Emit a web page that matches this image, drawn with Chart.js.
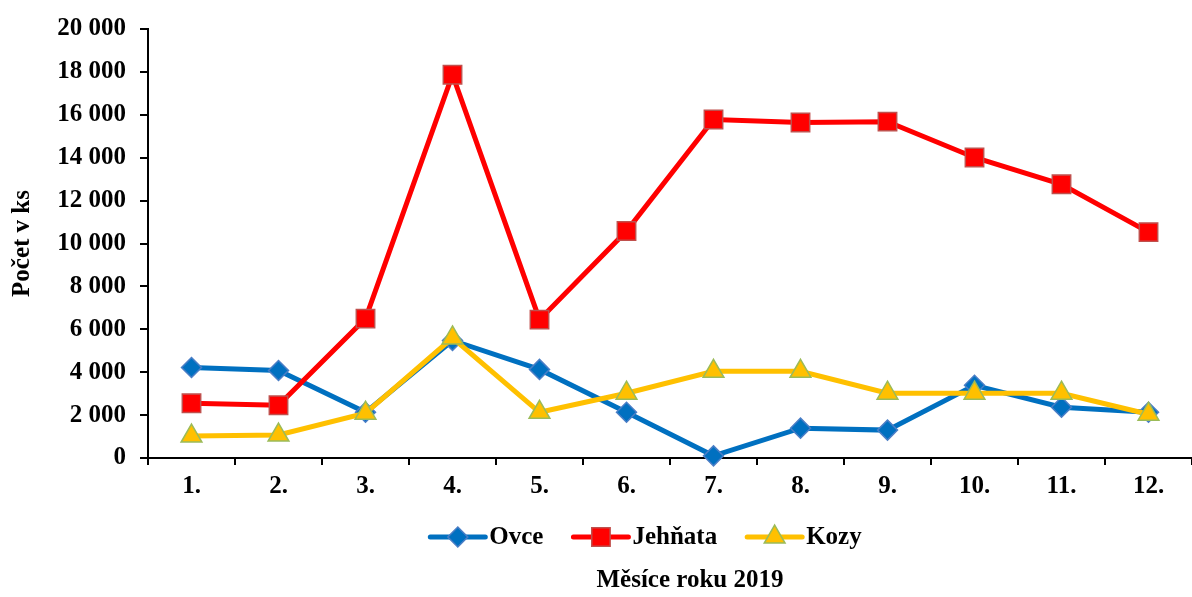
<!DOCTYPE html>
<html>
<head>
<meta charset="utf-8">
<script src="https://cdn.jsdelivr.net/npm/chart.js@4/dist/chart.umd.min.js"></script>
<style>
  html, body { margin: 0; padding: 0; background: #fff; }
  #wrap { width: 1192px; height: 597px; }
</style>
</head>
<body>
<div id="wrap"><canvas id="c" width="1192" height="597"></canvas></div>
<script>
const MONTHS = ["1.", "2.", "3.", "4.", "5.", "6.", "7.", "8.", "9.", "10.", "11.", "12."];
const OVCE = [4220, 4080, 2130, 5480, 4130, 2130, 100, 1390, 1300, 3390, 2370, 2130];
const JEHNATA = [2550, 2460, 6500, 17870, 6450, 10580, 15780, 15640, 15680, 14010, 12760, 10530];
const KOZY = [1020, 1070, 2090, 5600, 2130, 3020, 4040, 4040, 3020, 3020, 3020, 2040];
const Y_TICKS = [0, 2000, 4000, 6000, 8000, 10000, 12000, 14000, 16000, 18000, 20000];

const FONT = "'Liberation Serif', 'Times New Roman', serif";
const FS = 25;

const SERIES = [
  { label: "Ovce", data: OVCE, line: "#0070C0", fill: "#0070C0", edge: "#4A7EC6", style: "rectRot", r: 10, order: 3 },
  { label: "Jehňata", data: JEHNATA, line: "#FF0000", fill: "#FF0000", edge: "#C0504D", style: "rect", r: 13, order: 2 },
  { label: "Kozy", data: KOZY, line: "#FFC000", fill: "#FFC000", edge: "#9BBB59", style: "triangle", r: 12, order: 1 },
];

function fmtThousands(v) {
  return String(v).replace(/\B(?=(\d{3})+(?!\d))/g, " ");
}

// same shapes as Chart.js point styles, for the legend
function drawMarker(ctx, s, x, y) {
  ctx.save();
  ctx.fillStyle = s.fill;
  ctx.strokeStyle = s.edge;
  ctx.lineWidth = 1.5;
  ctx.beginPath();
  const r = s.r;
  if (s.style === "rectRot") {
    ctx.moveTo(x, y - r); ctx.lineTo(x + r, y); ctx.lineTo(x, y + r); ctx.lineTo(x - r, y);
  } else if (s.style === "rect") {
    const h = Math.SQRT1_2 * r;
    ctx.rect(x - h, y - h, h * 2, h * 2);
  } else {
    const c = Math.cos(Math.PI / 6) * r, sn = Math.sin(Math.PI / 6) * r;
    ctx.moveTo(x, y - r); ctx.lineTo(x + c, y + sn); ctx.lineTo(x - c, y + sn);
  }
  ctx.closePath();
  ctx.fill();
  ctx.stroke();
  ctx.restore();
}

// legend (line + marker) and x title drawn by hand, Excel style
const extras = {
  id: "extras",
  afterDraw(chart) {
    const ctx = chart.ctx;
    ctx.save();
    ctx.font = "bold " + FS + "px " + FONT;
    ctx.textBaseline = "middle";
    const lineLen = 55, gap = 4, spacing = 30;
    const widths = SERIES.map(s => lineLen + gap + ctx.measureText(s.label).width);
    const total = widths.reduce((a, b) => a + b, 0) + spacing * (SERIES.length - 1);
    let x = 646 - total / 2;
    const y = 537;
    SERIES.forEach((s, i) => {
      ctx.strokeStyle = s.line;
      ctx.lineWidth = 5;
      ctx.lineCap = "round";
      ctx.beginPath();
      ctx.moveTo(x, y); ctx.lineTo(x + lineLen, y);
      ctx.stroke();
      drawMarker(ctx, s, x + lineLen / 2, y);
      ctx.fillStyle = "#000";
      ctx.textAlign = "left";
      ctx.fillText(s.label, x + lineLen + gap, y + 1);
      x += widths[i] + spacing;
    });
    ctx.textAlign = "center";
    ctx.fillText("Měsíce roku 2019", 690, 581);
    ctx.restore();
  }
};

new Chart(document.getElementById("c"), {
  type: "line",
  data: {
    labels: MONTHS,
    datasets: SERIES.map(s => ({
      label: s.label,
      data: s.data,
      order: s.order,
      borderColor: s.line,
      borderWidth: 5,
      backgroundColor: s.fill,
      pointBackgroundColor: s.fill,
      pointBorderColor: s.edge,
      pointBorderWidth: 1.5,
      pointStyle: s.style,
      pointRadius: s.r,
      tension: 0,
      fill: false,
      clip: false,
    })),
  },
  options: {
    responsive: false,
    animation: false,
    events: [],
    layout: { autoPadding: false, padding: { top: 27, left: 0, right: -6, bottom: 0 } },
    plugins: { legend: { display: false }, tooltip: { enabled: false } },
    scales: {
      x: {
        offset: true,
        afterFit: (s) => { s.height = 139; },
        grid: { drawOnChartArea: false, drawTicks: true, tickLength: 7, color: "#000", lineWidth: 2, offset: true },
        border: { color: "#000", width: 2 },
        ticks: { color: "#000", padding: 7, font: { family: FONT, size: FS, weight: "bold" } },
      },
      y: {
        min: 0,
        max: 20000,
        afterFit: (s) => { s.width = 148; },
        afterBuildTicks: (s) => { s.ticks = Y_TICKS.map(v => ({ value: v })); },
        grid: { drawOnChartArea: false, drawTicks: true, tickLength: 8, color: "#000", lineWidth: 2 },
        border: { color: "#000", width: 2 },
        ticks: {
          color: "#000",
          padding: 14,
          font: { family: FONT, size: FS, weight: "bold" },
          callback: (v) => fmtThousands(v),
        },
        title: {
          display: true,
          text: "Počet v ks",
          color: "#000",
          padding: { top: 8, bottom: 0 },
          font: { family: FONT, size: FS, weight: "bold" },
        },
      },
    },
  },
  plugins: [extras],
});
</script>
</body>
</html>
